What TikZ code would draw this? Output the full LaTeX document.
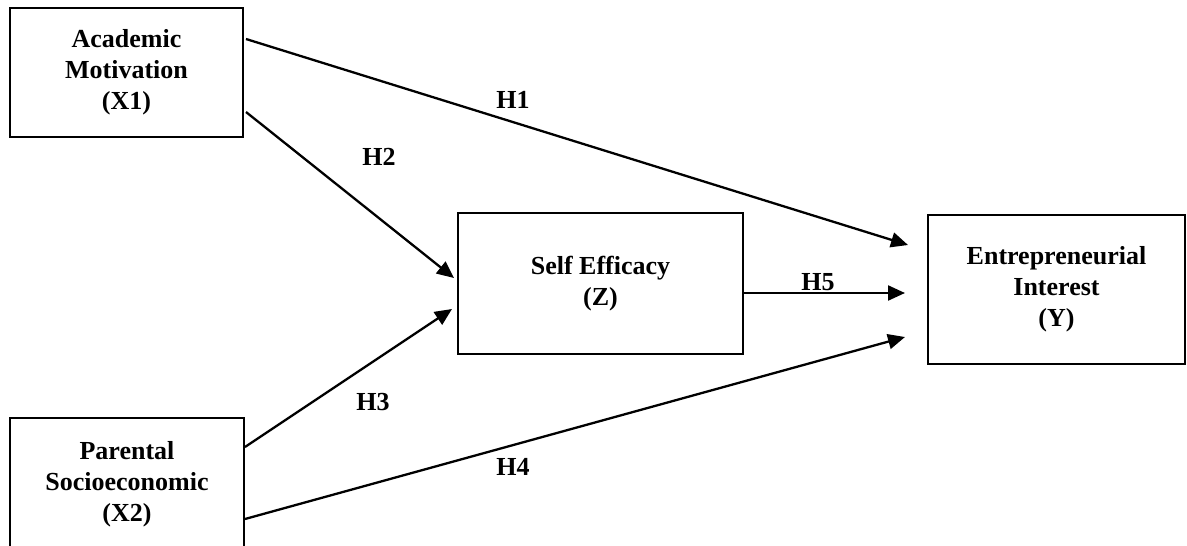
\documentclass[tikz,border=0pt]{standalone}
\usepackage{fontspec}
\setmainfont{Liberation Serif}
\usetikzlibrary{arrows.meta}
\begin{document}
\begin{tikzpicture}[x=1pt,y=-1pt,
  varbox/.style={draw, line width=2pt, align=center, font=\fontsize{26}{31}\selectfont\bfseries, inner sep=0pt},
  hyp/.style={font=\fontsize{26}{31}\selectfont\bfseries, inner sep=0pt},
  link/.style={line width=2.3pt, -{Triangle[length=17pt,width=15pt]}}]
\useasboundingbox (0,0) rectangle (1187,546);
\node[varbox, minimum width=233pt, minimum height=129pt] (x1) at (126.5,72.5) {Academic\\Motivation\\(X1)};
\node[varbox, minimum width=234pt, minimum height=132pt] (x2) at (127,484) {Parental\\Socioeconomic\\(X2)};
\node[varbox, minimum width=285pt, minimum height=141pt] (z) at (600.5,283.5) {Self Efficacy\\(Z)};
\node[varbox, minimum width=257pt, minimum height=149pt] (y) at (1056.5,289.5) {Entrepreneurial\\Interest\\(Y)};
\coordinate (x1a) at (246,39);
\coordinate (x1b) at (246,112);
\coordinate (x2a) at (245,447);
\coordinate (x2b) at (245,519);
\coordinate (za) at (454,278);
\coordinate (zb) at (452,309);
\coordinate (zr) at (744,293);
\coordinate (ya) at (908,245);
\coordinate (yb) at (905,293);
\coordinate (yc) at (905,337);
\draw[link] (x1a) -- (ya);
\draw[link] (x1b) -- (za);
\draw[link] (x2a) -- (zb);
\draw[link] (x2b) -- (yc);
\draw[link] (zr) -- (yb);
\node[hyp] (h1) at (513,100) {H1};
\node[hyp] (h2) at (379,157) {H2};
\node[hyp] (h5) at (818,282) {H5};
\node[hyp] (h3) at (373,402) {H3};
\node[hyp] (h4) at (513,467) {H4};
\end{tikzpicture}
\end{document}
